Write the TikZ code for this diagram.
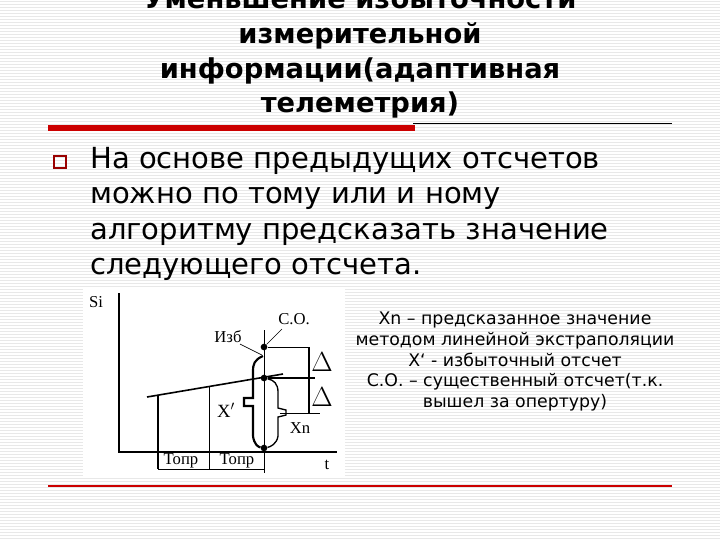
\documentclass[tikz,border=0pt]{standalone}
\usepackage{fontspec}
\setmainfont{DejaVu Sans}
\newfontfamily\chartfont{Liberation Serif}
\begin{document}
\begin{tikzpicture}[x=0.75pt,y=-0.75pt,
  ax/.style={line width=1pt},
  thick1/.style={line width=1.6pt},
  lbl/.style={font=\chartfont\fontsize{12.5}{13}\selectfont,inner sep=0pt},
  dot/.style={circle,fill=black,inner sep=0pt,minimum size=5pt}]
\useasboundingbox (0,0) rectangle (720,540);
\fill[white] (0,0) rectangle (720,540);
\foreach \y in {1,4,...,540} \draw[gray!18,line width=0.5pt] (0,\y) -- (720,\y);
% title
\node[font=\bfseries\fontsize{20.5}{26}\selectfont,align=center,anchor=north,inner sep=0pt] (title) at (360,-13) {Уменьшение избыточности\\измерительной\\информации(адаптивная\\телеметрия)};
\fill[red!80!black] (48,125) rectangle (415,131);
\draw[black,line width=0.6pt] (413,123) -- (672,123);
% bullet
\node[draw=red!60!black,line width=0.8pt,minimum size=9pt,inner sep=0pt] (b) at (60,162) {};
\node[font=\fontsize{21.8}{26.5}\selectfont,align=left,anchor=north west,inner sep=0pt] (body) at (90,147) {На основе предыдущих отсчетов\\можно по тому или и ному\\алгоритму предсказать значение\\следующего отсчета.};
% chart
\fill[white] (83,288) rectangle (345,478);
\coordinate (o) at (119,452);
\coordinate (ytop) at (119,293);
\coordinate (xend) at (337,452);
\draw[ax] (ytop) -- (o) -- (xend);
\node[lbl] (si) at (96,302) {Si};
\node[lbl] (t) at (327,465) {t};
\draw[thick1] (158,395) -- (158,469);
\draw[line width=0.7pt] (209,387) -- (209,469);
\draw[line width=0.7pt] (264,330) -- (264,473);
\draw[line width=0.7pt] (158,469) -- (264,469);
\node[lbl] (t1) at (181,461) {Топр};
\node[lbl] (t2) at (237,461) {Топр};
\draw[line width=1.2pt] (147,397) -- (283,374);
\node[dot] (so) at (264,347) {};
\node[dot] (mid) at (264,378) {};
\node[dot] (bot) at (264,448) {};
\draw[line width=0.7pt] (so) -- (310,347);
\draw[line width=1.2pt] (mid) -- (315,378);
\draw[line width=0.7pt] (280,413) -- (320,413);
\draw[thick1] (309,347) -- (309,413);
\node[lbl,font=\chartfont\fontsize{22}{22}\selectfont] (d1) at (322,362) {$\Delta$};
\node[lbl,font=\chartfont\fontsize{22}{22}\selectfont] (d2) at (322,397) {$\Delta$};
\node[lbl] (co) at (294,319) {С.О.};
\node[lbl] (izb) at (228,337) {Изб};
\draw[line width=0.5pt] (282,329) -- (so);
\draw[line width=0.5pt] (240,344) -- (262,355);
\node[lbl,font=\chartfont\fontsize{14}{14}\selectfont] (xp) at (226,410) {X$'$};
\node[lbl] (xn) at (300,428) {Xn};
% braces
\draw[line width=1.6pt] (263,356) .. controls (254,360) and (253,364) .. (253,372)
  -- (253,398) -- (244,398) -- (244,406) -- (253,406) -- (253,436)
  .. controls (254,444) and (258,447) .. (bot);
\draw[line width=1pt] (mid) .. controls (274,380) and (278,384) .. (278,392)
  -- (278,408) -- (286,410) -- (286,415) -- (278,417) -- (278,436)
  .. controls (277,444) and (270,447) .. (bot);
% right text
\node[font=\fontsize{13}{15.5}\selectfont,align=center,anchor=north,inner sep=0pt] (note) at (515,312) {Xn – предсказанное значение\\методом линейной экстраполяции\\X` - избыточный отсчет\\С.О. – существенный отсчет(т.к.\\вышел за опертуру)};
\draw[red!80!black,line width=0.8pt] (48,486) -- (672,486);
\end{tikzpicture}
\end{document}
